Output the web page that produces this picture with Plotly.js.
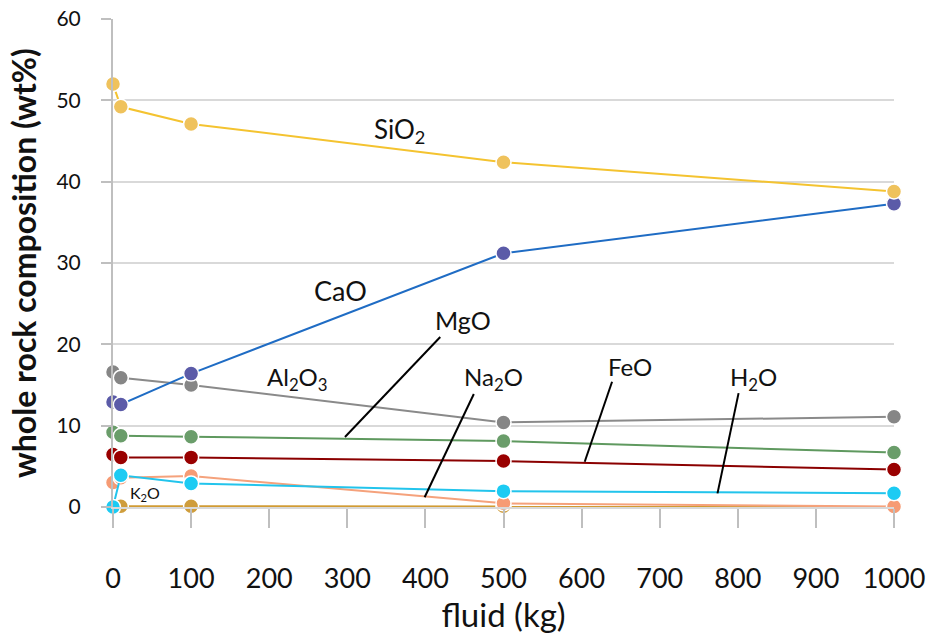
<!DOCTYPE html>
<html>
<head>
<meta charset="utf-8">
<script src="https://cdn.plot.ly/plotly-3.0.1.min.js"></script>
<style>html,body{margin:0;padding:0;background:#fff;}#chart{width:929px;height:637px;}</style>
</head>
<body>
<div id="chart"></div>
<script>
// ---- data ----
const fluid = [0, 10, 100, 500, 1000];
const SiO2  = [52.0, 49.2, 47.1, 42.4, 38.8];
const CaO   = [12.9, 12.6, 16.4, 31.2, 37.3];
const Al2O3 = [16.6, 15.9, 15.0, 10.4, 11.1];
const MgO   = [9.2, 8.75, 8.65, 8.1, 6.7];
const FeO   = [6.45, 6.1, 6.1, 5.65, 4.6];
const Na2O  = [3.0, 3.6, 3.8, 0.45, 0.05];
const H2O   = [0.0, 3.9, 2.9, 1.95, 1.7];
const K2O   = [0.1, 0.1, 0.1, 0.1, 0.05];
const xTicks = [0, 100, 200, 300, 400, 500, 600, 700, 800, 900, 1000];
const yTicks = [0, 10, 20, 30, 40, 50, 60];

// ---- styling ----
const seriesList = [
  {name: 'K2O',   y: K2O,   line: '#d19b33', marker: '#cf9d3c'},
  {name: 'Na2O',  y: Na2O,  line: '#f5a27c', marker: '#f69b74'},
  {name: 'H2O',   y: H2O,   line: '#22c4ec', marker: '#1ccbf3'},
  {name: 'FeO',   y: FeO,   line: '#8b0000', marker: '#990000'},
  {name: 'MgO',   y: MgO,   line: '#5f995f', marker: '#6a9d6a'},
  {name: 'Al2O3', y: Al2O3, line: '#8a8a8a', marker: '#868686'},
  {name: 'CaO',   y: CaO,   line: '#1f6cc4', marker: '#5b5ba8'},
  {name: 'SiO2',  y: SiO2,  line: '#f4c330', marker: '#efc25c'}
];

const traces = seriesList.map(s => ({
  x: fluid, y: s.y, name: s.name, type: 'scatter', mode: 'lines+markers',
  cliponaxis: false,
  line: {color: s.line, width: 2},
  marker: {color: s.marker, size: 15, line: {color: '#ffffff', width: 1.5}},
  hoverinfo: 'x+y+name'
}));

// label positions (data coordinates)
const labels = [
  {text: 'SiO<sub>2</sub>',  x: 367, y: 46.3, size: 26},
  {text: 'CaO',              x: 291, y: 26.6, size: 27},
  {text: 'MgO',              x: 448, y: 23.0, size: 25},
  {text: 'Al<sub>2</sub>O<sub>3</sub>', x: 236, y: 15.8, size: 24},
  {text: 'Na<sub>2</sub>O',  x: 487, y: 15.8, size: 24},
  {text: 'FeO',              x: 662, y: 17.3, size: 24},
  {text: 'H<sub>2</sub>O',   x: 820, y: 15.8, size: 24},
  {text: 'K<sub>2</sub>O',   x: 41,  y: 1.7,  size: 16}
];
const leaders = [
  {x0: 419, y0: 20.9, x1: 297, y1: 8.6},
  {x0: 462, y0: 13.9, x1: 399, y1: 1.2},
  {x0: 639, y0: 15.4, x1: 604, y1: 5.57},
  {x0: 801, y0: 14.0, x1: 774, y1: 1.68}
];

const layout = {
  width: 929, height: 637,
  margin: {l: 113, r: 35, t: 19, b: 130},
  paper_bgcolor: '#ffffff', plot_bgcolor: '#ffffff',
  showlegend: false,
  font: {family: 'Lato, "Open Sans", sans-serif', color: '#000'},
  xaxis: {
    range: [0, 1000], tickvals: xTicks, ticktext: xTicks.map(String),
    showgrid: false, zeroline: false, showline: true, linecolor: '#d9d9d9', linewidth: 2,
    ticks: 'outside', ticklen: 19, tickwidth: 2, tickcolor: '#bfbfbf',
    ticklabelstandoff: 28,
    tickfont: {size: 27, color: '#111'},
    title: {text: 'fluid (kg)', font: {size: 33, color: '#111'}, standoff: 8}
  },
  yaxis: {
    range: [0, 60], tickvals: yTicks, ticktext: yTicks.map(String),
    showgrid: true, gridcolor: '#d9d9d9', gridwidth: 2, zeroline: false,
    showline: true, linecolor: '#bfbfbf', linewidth: 2,
    ticks: 'outside', ticklen: 10, tickwidth: 2, tickcolor: '#bfbfbf',
    ticklabelstandoff: 16,
    tickfont: {size: 21, color: '#111'},
    title: {text: '<b>whole rock composition (wt%)</b>', font: {size: 32, color: '#111'}, standoff: 10}
  },
  shapes: leaders.map(l => ({type: 'line', xref: 'x', yref: 'y', x0: l.x0, y0: l.y0, x1: l.x1, y1: l.y1,
    line: {color: '#000', width: 2}})),
  annotations: labels.map(a => ({text: a.text, x: a.x, y: a.y, xref: 'x', yref: 'y', showarrow: false,
    font: {size: a.size, color: '#111'}}))
};

Plotly.newPlot('chart', traces, layout, {displayModeBar: false, staticPlot: true});
</script>
</body>
</html>
